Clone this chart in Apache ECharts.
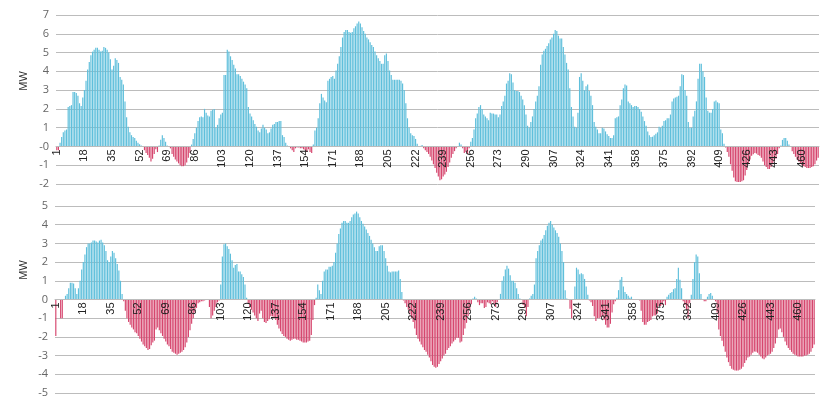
<!DOCTYPE html>
<html>
<head>
<meta charset="utf-8">
<script src="https://cdn.jsdelivr.net/npm/echarts@6/dist/echarts.min.js"></script>
<style>
  html, body { margin: 0; padding: 0; background: #fff; }
  #chart { width: 830px; height: 398px; }
</style>
</head>
<body>
<div id="chart"></div>
<script>
// 两个面板的功率数据 (MW)
var upperMW = [
  -0.2, -0.2, 0.2, 0.5, 0.75, 0.85, 0.9, 2.1, 2.15, 2.2,
  2.9, 2.9, 2.85, 2.7, 2.3, 2.15, 2.6, 3.0, 3.5, 4.1,
  4.5, 4.85, 5.05, 5.15, 5.25, 5.25, 5.15, 5.05, 5.1, 5.3,
  5.25, 5.15, 5.0, 4.65, 4.1, 4.3, 4.7, 4.6, 4.45, 3.7,
  3.55, 3.3, 2.4, 1.55, 1.05, 0.75, 0.6, 0.5, 0.45, 0.3,
  0.2, 0.12, 0.05, 0, -0.2, -0.35, -0.45, -0.6, -0.8, -0.65,
  -0.4, -0.15, -0.3, 0.05, 0.35, 0.6, 0.45, 0.25, 0.05, 0,
  -0.1, -0.4, -0.55, -0.7, -0.8, -0.9, -1.0, -1.05, -1.05, -1.0,
  -0.85, -0.6, -0.35, 0.1, 0.4, 0.7, 1.0, 1.35, 1.55, 1.6,
  1.55, 2.0, 1.8, 1.65, 1.6, 1.9, 1.95, 2.0, 1.0, 1.15,
  1.5, 1.7, 1.8, 3.8, 3.8, 5.15, 5.05, 4.8, 4.6, 4.35,
  4.15, 3.85, 3.85, 3.75, 3.6, 3.45, 3.3, 3.1, 2.1, 1.75,
  1.6, 1.4, 1.2, 1.05, 0.85, 0.75, 0.95, 1.15, 1.0, 0.9,
  0.7, 0.75, 0.95, 1.15, 1.2, 1.3, 1.3, 1.35, 1.35, 0.6,
  0.5, 0.2, 0.05, 0, -0.1, -0.2, -0.3, -0.1, -0.05, -0.05,
  -0.1, -0.1, -0.15, -0.2, -0.3, -0.15, -0.3, -0.35, 0.1, 0.85,
  1.0, 1.5, 2.3, 2.8, 2.6, 2.45, 2.35, 3.5, 3.6, 3.7,
  3.75, 3.6, 4.05, 4.4, 4.8, 5.3, 5.8, 6.1, 6.2, 6.2,
  6.1, 6.05, 6.1, 6.3, 6.4, 6.55, 6.65, 6.55, 6.35, 6.15,
  6.0, 5.8, 5.7, 5.55, 5.4, 5.3, 5.05, 4.85, 4.7, 4.55,
  4.4, 4.4, 4.85, 4.95, 4.55, 4.05, 3.8, 3.55, 3.55, 3.55,
  3.55, 3.55, 3.5, 3.35, 3.0, 2.3, 1.5, 1.0, 0.7, 0.6,
  0.55, 0.4, 0.15, 0.03, 0.03, 0.08, -0.1, -0.2, -0.3, -0.4,
  -0.55, -0.75, -0.95, -1.15, -1.4, -1.6, -1.8, -1.75, -1.6, -1.5,
  -1.35, -1.1, -0.85, -0.6, -0.4, -0.25, -0.1, 0, 0.2, 0.1,
  -0.1, -0.35, -0.3, -0.4, -0.1, 0.25, 0.45, 0.9, 1.5, 1.75,
  2.1, 2.2, 2.0, 1.7, 1.6, 1.5, 1.4, 1.8, 1.75, 1.75,
  1.7, 1.7, 1.55, 1.7, 2.15, 2.4, 2.7, 3.35, 3.5, 3.9,
  3.85, 3.4, 3.0, 2.95, 2.95, 2.9, 2.7, 2.5, 2.2, 1.7,
  1.1, 1.0, 1.3, 1.6, 2.0, 2.4, 2.7, 3.2, 4.35, 4.9,
  5.1, 5.2, 5.35, 5.5, 5.7, 5.8, 6.0, 6.2, 6.15, 5.9,
  5.75, 5.75, 5.3, 4.9, 4.45, 4.1, 3.1, 2.1, 1.6, 1.05,
  1.0, 1.8, 3.7, 3.9, 3.5, 3.0, 3.2, 3.3, 2.95, 2.7,
  2.2, 1.3, 1.05, 0.9, 0.7, 0.7, 1.0, 0.95, 0.8, 0.65,
  0.55, 0.45, 0.45, 0.6, 1.5, 1.55, 1.6, 2.2, 2.5, 3.1,
  3.3, 3.25, 2.4, 2.3, 2.2, 2.1, 2.15, 2.15, 2.1, 2.0,
  1.85, 1.6, 1.35, 1.1, 0.8, 0.6, 0.5, 0.52, 0.6, 0.68,
  0.75, 1.05, 1.0, 1.1, 1.35, 1.4, 1.5, 1.5, 1.7, 2.4,
  2.55, 2.6, 2.65, 2.7, 3.2, 3.85, 3.8, 3.0, 2.7, 1.3,
  1.0, 1.0, 1.6, 1.9, 2.4, 3.6, 4.4, 4.4, 4.0, 3.7,
  2.6, 1.9, 1.8, 1.8, 2.0, 2.4, 2.45, 2.35, 2.3, 0.9,
  0.7, 0.15, -0.05, -0.3, -0.55, -0.95, -1.3, -1.65, -1.85, -1.9,
  -1.9, -1.9, -1.85, -1.8, -1.55, -1.25, -0.95, -0.7, -0.5, -0.42,
  -0.35, -0.38, -0.45, -0.5, -0.6, -0.8, -1.0, -1.1, -1.2, -1.2,
  -1.1, -0.95, -0.8, -0.65, -0.4, -0.1, 0.05, 0.35, 0.45, 0.45,
  0.3, 0.1, 0, -0.25, -0.4, -0.55, -0.7, -0.8, -0.9, -1.0,
  -1.05, -1.1, -1.15, -1.15, -1.15, -1.1, -1.05, -0.95, -0.75, -0.6
]

var lowerMW = [
  -1.95, 0, 0, -1.0, -1.0, 0, 0.2, 0.3, 0.6, 0.9,
  0.9, 0.85, 0.6, 0.3, 0.6, 1.0, 1.6, 2.0, 2.4, 2.8,
  3.0, 3.0, 3.05, 3.15, 3.15, 3.1, 3.05, 3.15, 3.2, 3.05,
  2.9, 2.6, 2.1, 2.0, 2.3, 2.6, 2.5, 2.2, 1.9, 1.55,
  1.0, 0.3, -0.1, -0.6, -1.0, -1.2, -1.35, -1.5, -1.6, -1.75,
  -1.8, -1.95, -2.1, -2.25, -2.4, -2.5, -2.6, -2.7, -2.65, -2.45,
  -2.3, -2.2, -1.6, -1.5, -1.65, -1.8, -1.95, -2.1, -2.25, -2.4,
  -2.5, -2.65, -2.8, -2.85, -2.9, -2.95, -2.9, -2.85, -2.8, -2.7,
  -2.55, -2.3, -2.0, -1.65, -1.3, -1.0, -0.7, -0.45, -0.2, -0.15,
  -0.1, -0.1, -0.05, 0, 0, -0.4, -1.0, -0.85, -0.6, -0.4,
  -0.15, -0.05, 0.8, 2.3, 2.95, 3.0, 2.85, 2.7, 2.45, 2.1,
  1.7, 1.85, 1.9, 1.5, 1.5, 1.35, 1.2, 0.8, 0.1, -0.2,
  -0.4, -0.55, -0.7, -0.85, -1.0, -1.15, -0.75, -0.6, -1.0, -1.2,
  -1.25, -1.15, -1.05, -0.9, -0.9, -0.95, -1.1, -1.35, -1.55, -1.7,
  -1.85, -1.95, -2.0, -2.1, -2.15, -2.2, -2.15, -2.1, -2.1, -2.15,
  -2.15, -2.2, -2.25, -2.3, -2.3, -2.3, -2.25, -2.2, -1.9, -1.1,
  -0.3, 0.1, 0.8, 0.5, 0.3, 1.0, 1.5, 1.6, 1.6, 1.75,
  1.75, 1.8, 2.0, 2.5, 3.0, 3.5, 3.8, 4.1, 4.2, 4.2,
  4.1, 4.1, 4.2, 4.4, 4.55, 4.6, 4.7, 4.6, 4.4, 4.2,
  4.05, 3.9, 3.75, 3.55, 3.4, 3.2, 3.0, 2.8, 2.6, 2.6,
  2.85, 2.9, 2.9, 2.6, 2.2, 1.8, 1.5, 1.45, 1.5, 1.5,
  1.5, 1.5, 1.55, 1.1, 0.4, -0.05, -0.2, -0.4, -0.55, -0.8,
  -1.0, -1.2, -1.55, -1.9, -2.1, -2.25, -2.4, -2.55, -2.7, -2.8,
  -2.95, -3.1, -3.3, -3.5, -3.6, -3.65, -3.6, -3.45, -3.3, -3.15,
  -3.0, -2.9, -2.7, -2.6, -2.5, -2.35, -2.25, -2.15, -2.05, -2.05,
  -2.3, -2.25, -1.9, -1.55, -1.25, -0.9, -0.55, -0.25, 0.05, 0.15,
  0.05, -0.15, -0.3, -0.2, -0.2, -0.45, -0.4, -0.15, -0.2, -0.25,
  -0.1, -0.25, -0.4, -0.15, 0, 0.3, 1.0, 1.25, 1.6, 1.8,
  1.65, 1.3, 1.0, 1.0, 0.9, 0.6, 0.3, 0.05, 0, -0.3,
  -0.45, -0.9, -0.4, 0.05, 0.2, 0.3, 0.8, 2.2, 2.6, 2.9,
  3.15, 3.25, 3.45, 3.7, 3.95, 4.1, 4.2, 4.0, 3.85, 3.7,
  3.55, 3.35, 3.0, 2.6, 2.0, 0.5, 0.05, 0, -0.5, -1.0,
  0, 0.7, 1.7, 1.6, 1.35, 1.4, 1.35, 1.1, 0.7, 0.25,
  -0.05, -0.15, -0.35, -0.9, -1.15, -1.0, -1.0, -0.95, -0.9, -1.1,
  -1.35, -1.5, -1.5, -1.3, -0.7, -0.25, -0.1, 0.1, 0.5, 1.05,
  1.2, 0.7, 0.4, 0.3, 0.2, 0.1, 0.15, 0, 0, 0,
  0, -0.05, -0.6, -1.2, -1.35, -1.35, -1.2, -1.15, -1.1, -0.9,
  -0.85, -0.85, -0.75, -0.35, -0.35, -0.3, -0.1, -0.3, 0.15, 0.25,
  0.35, 0.4, 0.55, 0.6, 1.1, 1.7, 1.05, 0.6, -0.1, -0.3,
  -0.55, -1.0, -0.2, 0.25, 1.1, 2.0, 2.4, 2.3, 1.4, 0.3,
  0, -0.1, -0.1, 0.15, 0.3, 0.35, 0.2, 0.03, -0.1, -0.7,
  -1.6, -1.95, -2.2, -2.5, -2.8, -3.1, -3.35, -3.55, -3.7, -3.75,
  -3.8, -3.8, -3.8, -3.75, -3.7, -3.6, -3.4, -3.25, -3.1, -3.05,
  -2.95, -2.85, -2.78, -2.8, -2.85, -2.95, -3.05, -3.15, -3.2, -3.1,
  -3.0, -2.95, -2.9, -2.8, -2.6, -2.35, -2.05, -1.6, -1.55, -1.75,
  -2.0, -2.25, -2.45, -2.6, -2.7, -2.8, -2.9, -2.95, -3.0, -3.05,
  -3.05, -3.05, -3.05, -3.0, -3.0, -2.95, -2.9, -2.8, -2.6, -2.4
]

// x轴编号 1..470, 每17个显示一个
var categories = upperMW.map(function (v, i) { return String(i + 1) })
var upperTicks = { min: -2, max: 7, step: 1 }
var lowerTicks = { min: -5, max: 5, step: 1 }

var posColor = '#5fbfdb'
var negColor = '#d6466e'
var gridColor = '#bcbcbc'

// 两个网格的位置 (px)
var upperGrid = { left: 56, right: 11, top: 15, bottom: 214 }
var lowerGrid = { left: 55, right: 15, top: 206, bottom: 5 }

function barColor(params) {
  return params.value >= 0 ? posColor : negColor
}

// 把 x 轴从网格底部移到 0 刻度处
function zeroOffset(grid, ticks) {
  var h = 398 - grid.top - grid.bottom
  return -h * (0 - ticks.min) / (ticks.max - ticks.min)
}

function makeXAxis(gridIndex, grid, ticks) {
  return {
    type: 'category',
    gridIndex: gridIndex,
    data: categories,
    offset: zeroOffset(grid, ticks),
    z: 10,
    axisLine: {
      show: true,
      onZero: false,
      lineStyle: { color: gridColor }
    },
    axisTick: { show: false },
    axisLabel: {
      interval: 16,
      rotate: 90,
      margin: 3,
      fontSize: 11,
      fontFamily: 'Liberation Sans',
      color: '#222'
    },
    splitLine: { show: false }
  }
}

function makeYAxis(gridIndex, ticks, minusZero) {
  return {
    type: 'value',
    gridIndex: gridIndex,
    min: ticks.min,
    max: ticks.max,
    interval: ticks.step,
    axisLine: { show: false },
    axisTick: { show: false },
    axisLabel: {
      margin: 7,
      fontSize: 11,
      fontFamily: 'Open Sans',
      color: '#666',
      formatter: function (v) {
        // 上图的零刻度显示为 -0
        if (v === 0) return minusZero ? '-0' : '0'
        return String(v)
      }
    },
    splitLine: {
      show: true,
      lineStyle: { color: gridColor, width: 1 }
    }
  }
}

var chart = echarts.init(document.getElementById('chart'), null, { renderer: 'canvas' })

var option = {
  animation: false,
  backgroundColor: '#fff',
  grid: [
    Object.assign({ outerBoundsMode: 'none' }, upperGrid),
    Object.assign({ outerBoundsMode: 'none' }, lowerGrid)
  ],
  xAxis: [makeXAxis(0, upperGrid, upperTicks), makeXAxis(1, lowerGrid, lowerTicks)],
  yAxis: [makeYAxis(0, upperTicks, true), makeYAxis(1, lowerTicks, false)],
  graphic: [
    {
      type: 'text',
      x: 24,
      y: 81,
      rotation: Math.PI / 2,
      style: {
        text: 'MW',
        font: '11px "Liberation Sans"',
        fill: '#333',
        align: 'center',
        verticalAlign: 'middle'
      }
    },
    {
      type: 'text',
      x: 24,
      y: 270,
      rotation: Math.PI / 2,
      style: {
        text: 'MW',
        font: '11px "Liberation Sans"',
        fill: '#333',
        align: 'center',
        verticalAlign: 'middle'
      }
    }
  ],
  series: [
    {
      type: 'bar',
      xAxisIndex: 0,
      yAxisIndex: 0,
      data: upperMW,
      barCategoryGap: '28%',
      silent: true,
      itemStyle: { color: barColor }
    },
    {
      type: 'bar',
      xAxisIndex: 1,
      yAxisIndex: 1,
      data: lowerMW,
      barCategoryGap: '28%',
      silent: true,
      itemStyle: { color: barColor }
    }
  ]
}

chart.setOption(option)
</script>
</body>
</html>
